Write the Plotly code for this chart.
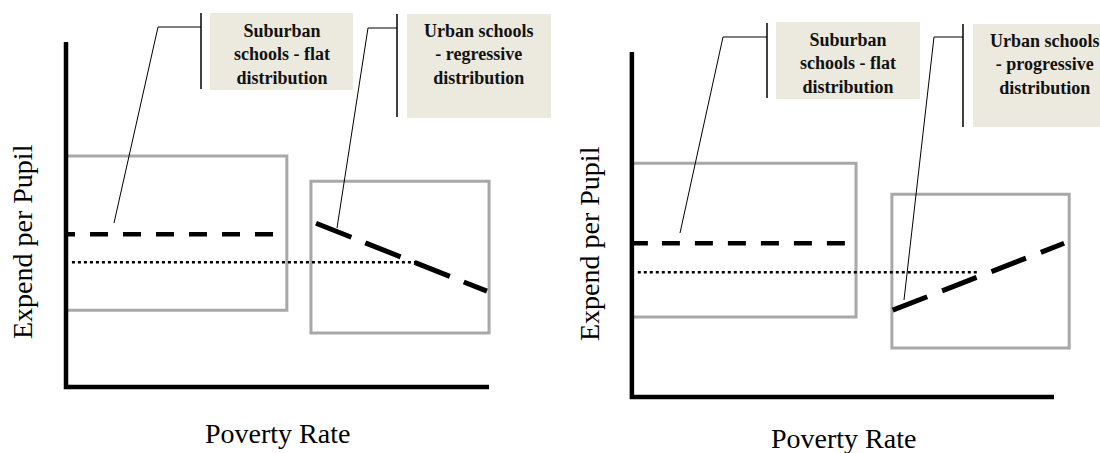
import plotly.graph_objects as go

# ---------------- data (schematic values, axis units 0-100) ----------------
panels = ["regressive", "progressive"]

# suburban flat distribution (both panels)
left_suburban_x = [0, 52]
left_suburban_y = [44.3, 44.3]
right_suburban_x = [0, 52.4]
right_suburban_y = [44.6, 44.6]

# average (dotted) level
left_avg_x = [1.4, 82.5]
left_avg_y = [36.2, 36.2]
right_avg_x = [1.4, 82.0]
right_avg_y = [36.2, 36.2]

# urban distribution
left_urban_x = [59.1, 99.5]
left_urban_y = [47.5, 27.8]
right_urban_x = [61.8, 102.4]
right_urban_y = [25.2, 44.6]

# grey ranges (x0, x1, y0, y1)
left_sub_box = [0, 52.2, 22.3, 67.0]
left_urb_box = [57.9, 100, 15.7, 59.7]
right_sub_box = [0, 53.1, 23.2, 67.8]
right_urb_box = [61.6, 103.6, 14.2, 58.8]

x_title = "Poverty Rate"
y_title = "Expend per Pupil"
sub_label = "Suburban<br>schools - flat<br>distribution"
left_urb_label = "Urban schools<br>- regressive<br>distribution"
right_urb_label = "Urban schools<br>- progressive<br>distribution"

# ---------------- figure ----------------
W, H = 1100, 453
def X(px):
    return px / W
def Y(py):
    return 1 - py / H

SERIF = "Liberation Serif"
BOXFILL = "#ECE9DF"
GREY = "#A8A8A8"

fig = go.Figure()

def line(x, y, xa, ya, width, dash):
    fig.add_trace(go.Scatter(x=x, y=y, mode="lines", xaxis=xa, yaxis=ya,
                             line=dict(color="black", width=width, dash=dash),
                             hoverinfo="skip", showlegend=False))

flat_dash_l = "9px,15px," + ",".join(["18px,15px"] * 7)
flat_dash_r = "16px,14px," + ",".join(["18px,15px"] * 7)

line(left_suburban_x, left_suburban_y, "x", "y", 4.5, flat_dash_l)
line(left_avg_x, left_avg_y, "x", "y", 2.4, "3px,3px")
line(left_urban_x, left_urban_y, "x", "y", 5, "38px,15px")

line(right_suburban_x, right_suburban_y, "x2", "y2", 4.5, flat_dash_r)
line(right_avg_x, right_avg_y, "x2", "y2", 2.4, "3px,3px")
line(right_urban_x, right_urban_y, "x2", "y2", 5, "37px,16px")

shapes = []
# grey range boxes
for b, xr, yr in [(left_sub_box, "x", "y"), (left_urb_box, "x", "y"),
                  (right_sub_box, "x2", "y2"), (right_urb_box, "x2", "y2")]:
    shapes.append(dict(type="rect", xref=xr, yref=yr, x0=b[0], x1=b[1], y0=b[2], y1=b[3],
                       line=dict(color=GREY, width=3), fillcolor="rgba(0,0,0,0)", layer="below"))
# axis lines
for xr, yr in [("x", "y"), ("x2", "y2")]:
    shapes.append(dict(type="path", xref=xr, yref=yr, path="M 0,100 L 0,0 L 100,0",
                       line=dict(color="black", width=4.5)))

# callouts (pixel geometry)
def callout(anchor, elbow, bar_x, bar_y0, bar_y1, box, text, text_top, text_cx=None):
    ax, ay = anchor
    ex, ey = elbow
    shapes.append(dict(type="path", xref="paper", yref="paper",
                       path=f"M {X(ax)},{Y(ay)} L {X(ex)},{Y(ey)} L {X(bar_x)},{Y(ey)}",
                       line=dict(color="black", width=1)))
    shapes.append(dict(type="line", xref="paper", yref="paper",
                       x0=X(bar_x), x1=X(bar_x), y0=Y(bar_y0), y1=Y(bar_y1),
                       line=dict(color="black", width=1.5)))
    bx0, by0, bx1, by1 = box
    shapes.append(dict(type="rect", xref="paper", yref="paper",
                       x0=X(bx0), x1=X(bx1), y0=Y(by0), y1=Y(by1),
                       fillcolor=BOXFILL, line=dict(width=0)))
    cx = text_cx if text_cx is not None else (bx0 + bx1) / 2
    fig.add_annotation(x=X(cx), y=Y(text_top), xref="paper", yref="paper",
                       xanchor="center", yanchor="top", text=text, showarrow=False,
                       align="center",
                       font=dict(family=SERIF, size=18, color="#111111", weight="bold"))

callout((114, 223), (158, 27), 201, 13, 89, (210, 13, 353, 90), sub_label, 19)
callout((337, 228), (368, 28), 397, 14, 117, (407, 14, 551, 118), left_urb_label, 19)
callout((680, 233), (723, 37), 767, 23, 98, (776, 22, 920, 99), sub_label, 28)
callout((904, 300), (934, 37), 963, 24, 127, (973, 24, 1115, 127), right_urb_label, 29, 1045)

# axis titles
for xc, yc in [(277, 433), (843, 438)]:
    fig.add_annotation(x=X(xc), y=Y(yc), xref="paper", yref="paper", text=x_title,
                       showarrow=False, xanchor="center", yanchor="middle",
                       font=dict(family=SERIF, size=28, color="black"))
for xc, yc in [(23, 242), (589, 244)]:
    fig.add_annotation(x=X(xc), y=Y(yc), xref="paper", yref="paper", text=y_title,
                       showarrow=False, xanchor="center", yanchor="middle", textangle=-90,
                       font=dict(family=SERIF, size=28, color="black"))

ax_common = dict(visible=False, fixedrange=True)
fig.update_layout(
    width=W, height=H,
    margin=dict(l=0, r=0, t=0, b=0),
    paper_bgcolor="white", plot_bgcolor="white",
    shapes=shapes,
    xaxis=dict(domain=[0, 0.5], range=[-15.6, 114.4], **ax_common),
    yaxis=dict(domain=[0, 1], range=[-19.1, 112.2], **ax_common),
    xaxis2=dict(domain=[0.5, 1], range=[-19.4, 110.9], anchor="y2", **ax_common),
    yaxis2=dict(domain=[0, 1], range=[-16.2, 115.1], anchor="x2", **ax_common),
    showlegend=False,
)

fig.write_html("out.html", config={"displayModeBar": False},
               post_script="document.body.style.margin='0';document.body.style.overflow='hidden';")
